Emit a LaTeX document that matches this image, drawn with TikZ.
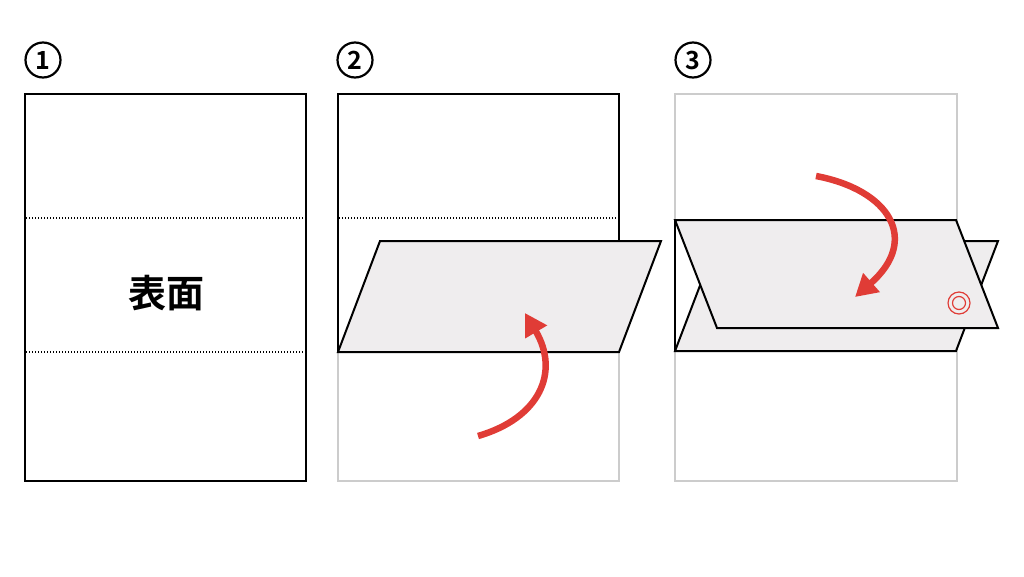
\documentclass[tikz,border=0pt]{standalone}
\usepackage{fontspec}
\newfontfamily\cjk{Noto Sans CJK JP}[BoldFont={* Bold}]
\usetikzlibrary{arrows.meta}
\definecolor{paperfill}{HTML}{EFEDEE}
\definecolor{foldred}{HTML}{E03C36}
\definecolor{lightedge}{HTML}{CCCCCC}
\tikzset{
  edge/.style={line width=2pt, line join=miter},
  grayedge/.style={line width=2pt, draw=lightedge},
  foldline/.style={line width=1.3pt, dash pattern=on 1.3pt off 1.7pt},
  flap/.style={edge, fill=paperfill, line join=miter},
  redarrow/.style={draw=foldred, line width=6.5pt, -{Triangle[length=22pt,width=24pt]}},
  numcircle/.style={circle, draw, line width=2.2pt, minimum size=35pt, inner sep=0pt, font=\cjk\bfseries\fontsize{25}{25}\selectfont},
  ring/.style={circle, draw=foldred, line width=1.2pt, inner sep=0pt}
}
\begin{document}
\begin{tikzpicture}[x=1pt,y=-1pt]
\useasboundingbox (0,0) rectangle (1024,576);
% step numbers
\node[numcircle] (n1) at (43,60) {1};
\node[numcircle] (n2) at (355,60) {2};
\node[numcircle] (n3) at (693,60) {3};

% panel 1
\draw[edge] (25,94) rectangle (306,481);
\draw[foldline] (26,218) -- (305,218);
\draw[foldline] (26,352) -- (305,352);
\node[font=\cjk\bfseries\fontsize{38}{38}\selectfont] (label) at (166,293) {表面};

% panel 2
\draw[grayedge] (338,352) -- (338,481) -- (619,481) -- (619,352);
\draw[edge] (338,352) -- (338,94) -- (619,94) -- (619,241);
\draw[foldline] (339,218) -- (618,218);
\draw[flap] (338,352) -- (380,241) -- (661,241) -- (619,352) -- cycle;
\draw[redarrow] (478,436) .. controls (540,418) and (560,372) .. (525,313);

% panel 3
\draw[grayedge] (675,94) rectangle (957,481);
\draw[flap] (675,351) -- (717,241) -- (998,241) -- (956,351) -- cycle;
\draw[flap] (675,220) -- (956,220) -- (998,328) -- (717,328) -- cycle;
\draw[edge] (675,220) -- (675,351);
\draw[redarrow] (816,176) .. controls (890,190) and (920,240) .. (855,297);
\node[ring, minimum size=22pt] (target) at (959,303) {};
\node[ring, minimum size=13pt] (targetin) at (959,303) {};
\end{tikzpicture}
\end{document}
